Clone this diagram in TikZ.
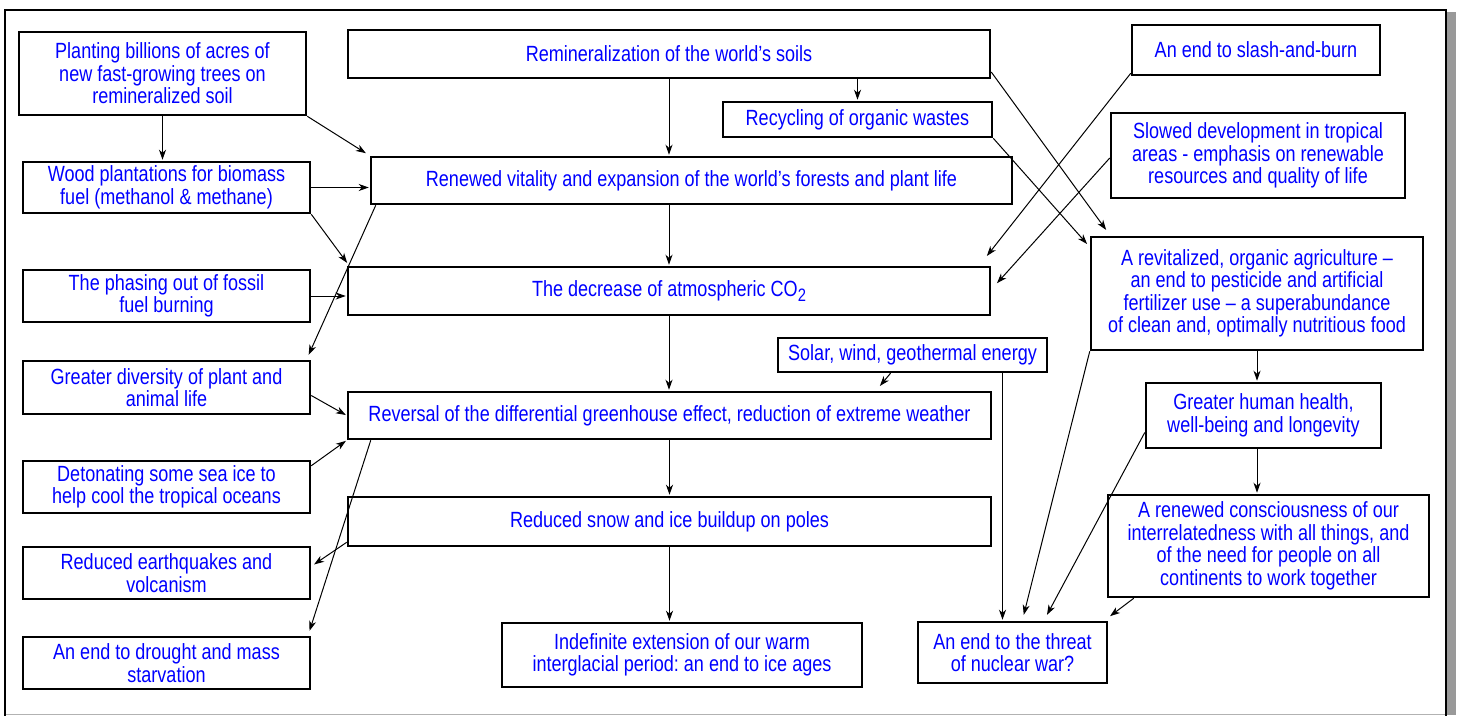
\documentclass[tikz,border=0pt]{standalone}
\usepackage{fontspec}
\setmainfont{Liberation Sans}[FakeStretch=0.82]
\usetikzlibrary{arrows.meta}
\frenchspacing
\tikzset{
    x=1pt, y=-1pt, % one unit per pixel, y running down
    >={Stealth[length=10pt, width=7pt, inset=3pt]}, % arrow heads
    box/.style={draw, line width=2.5pt, text=blue, align=center, inner sep=0pt,
        font=\fontsize{22}{22.5}\selectfont}, % every text box
    link/.style={->, line width=1pt, shorten >=1pt}, % every connector
}
\begin{document}
\begin{tikzpicture}
    \useasboundingbox (0,0) rectangle (1458,715);
    % frame with its shadow
    \fill[black!40] (1447,12) rectangle (1456,715);
    \draw[black!30, line width=1pt] (5,714) -- (1447,714);
    \draw[line width=2.5pt] (5,716) -- (5,10) -- (1446,10) -- (1446,716);

    % left column
    \node[box, minimum width=287, minimum height=83] (plant) at (162.5,73.5) {Planting billions of acres of\\new fast-growing trees on\\remineralized soil};
    \node[box, minimum width=287, minimum height=51] (wood) at (166.5,187.5) {Wood plantations for biomass\\fuel (methanol \& methane)};
    \node[box, minimum width=287, minimum height=52] (phase) at (166.5,296) {The phasing out of fossil\\fuel burning};
    \node[box, minimum width=287, minimum height=53] (div) at (166.5,387.5) {Greater diversity of plant and\\animal life};
    \node[box, minimum width=287, minimum height=52] (det) at (166.5,487) {Detonating some sea ice to\\help cool the tropical oceans};
    \node[box, minimum width=287, minimum height=52] (quake) at (166.5,573) {Reduced earthquakes and\\volcanism};
    \node[box, minimum width=287, minimum height=52] (drought) at (166.5,663) {An end to drought and mass\\starvation};

    % middle column
    \node[box, minimum width=642, minimum height=48] (remin) at (669,54) {Remineralization of the world’s soils};
    \node[box, minimum width=269, minimum height=35] (recyc) at (857.5,119.5) {Recycling of organic wastes};
    \node[box, minimum width=641, minimum height=47] (renew) at (691.5,180.5) {Renewed vitality and expansion of the world’s forests and plant life};
    \node[box, minimum width=642, minimum height=48] (dec) at (669,291) {The decrease of atmospheric CO\raisebox{-5pt}{\fontsize{18}{18}\selectfont 2}};
    \node[box, minimum width=269, minimum height=34] (solar) at (912.5,355) {Solar, wind, geothermal energy};
    \node[box, minimum width=643, minimum height=47] (rev) at (669.5,415.5) {Reversal of the differential greenhouse effect, reduction of extreme weather};
    \node[box, minimum width=643, minimum height=49] (snow) at (669.5,521.5) {Reduced snow and ice buildup on poles};
    \node[box, minimum width=360, minimum height=64] (indef) at (682,655) {Indefinite extension of our warm\\interglacial period: an end to ice ages};
    \node[box, minimum width=189, minimum height=61] (nuc) at (1012.5,652.5) {An end to the threat\\of nuclear war?};

    % right column
    \node[box, minimum width=248, minimum height=50] (slash) at (1256,50) {An end to slash-and-burn};
    \node[box, minimum width=294, minimum height=85] (slowed) at (1258,155.5) {Slowed development in tropical\\areas - emphasis on renewable\\resources and quality of life};
    \node[box, minimum width=332, minimum height=113] (revit) at (1257,293.5) {A revitalized, organic agriculture --\\an end to pesticide and artificial\\fertilizer use -- a superabundance\\of clean and, optimally nutritious food};
    \node[box, minimum width=235, minimum height=65] (health) at (1263.5,415.5) {Greater human health,\\well-being and longevity};
    \node[box, minimum width=321, minimum height=102] (consc) at (1268.5,546) {A renewed consciousness of our\\interrelatedness with all things, and\\of the need for people on all\\continents to work together};

    % connectors
    \draw[link] (plant.south) -- (plant.south |- wood.north);
    \draw[link] (plant.south east) -- ([shift={(-3,-2)}]renew.north west);
    \draw[link] (wood.east) -- (wood.east -| renew.west);
    \draw[link] (wood.south east) -- ([shift={(1,-2)}]dec.north west);
    \draw[link] ([xshift=6]renew.south west) -- ([shift={(-3,-4)}]div.north east);
    \draw[link] (phase.east) -- (phase.east -| dec.west);
    \draw[link] (remin.south) -- (remin.south |- renew.north);
    \draw[link] (recyc.north |- remin.south) -- (recyc.north);
    \draw[link] (dec.north |- renew.south) -- (dec.north);
    \draw[link] (dec.south) -- (dec.south |- rev.north);
    \draw[link] ([shift={(0,18)}]remin.east) -- ([shift={(17,-5)}]revit.north west);
    \draw[link] (recyc.south east) -- ([shift={(-2,9)}]revit.north west);
    \draw[link] ([shift={(0,-3)}]slash.south west) -- ([shift={(-5,-9)}]dec.north east);
    \draw[link] ([shift={(0,2.5)}]slowed.west) -- ([shift={(5,-7)}]dec.east);
    \draw[link] ([xshift=-22]solar.south) -- ([shift={(-113,-4)}]rev.north east);
    \draw[link] ([xshift=-10]nuc.north |- solar.south) -- ([xshift=-10]nuc.north);
    \draw[link] (revit.south west) -- ([shift={(11,-5)}]nuc.north);
    \draw[link] (revit.south) -- (revit.south |- health.north);
    \draw[link] ([shift={(0,17)}]health.west) -- ([shift={(34,-5)}]nuc.north);
    \draw[link] (revit.south |- health.south) -- (revit.south |- consc.north);
    \draw[link] ([xshift=27]consc.south west) -- ([shift={(1,-4)}]nuc.north east);
    \draw[link] ([shift={(0,8)}]div.east) -- (rev.west);
    \draw[link] ([shift={(0,6)}]det.north east) -- (rev.south west);
    \draw[link] ([xshift=24]rev.south west) -- ([shift={(-2,-4)}]drought.north east);
    \draw[link] ([shift={(0,-5)}]snow.south west) -- ([shift={(2,-8)}]quake.east);
    \draw[link] (rev.south) -- (rev.south |- snow.north);
    \draw[link] (snow.south) -- (snow.south |- indef.north);
\end{tikzpicture}
\end{document}
